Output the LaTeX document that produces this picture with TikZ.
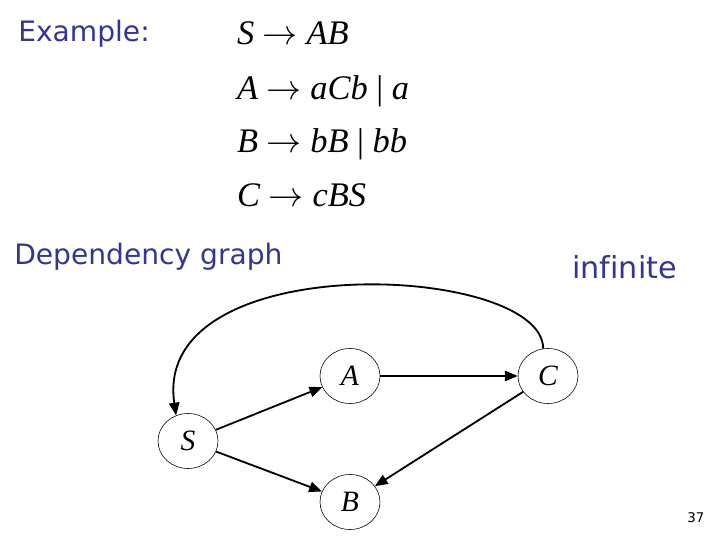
\documentclass[tikz,border=0pt]{standalone}
\usepackage{fontspec}
\setmainfont{Liberation Serif}
\newfontfamily\slidefont[Ligatures=NoCommon]{DejaVu Sans}
\usepackage{xcolor}
\usepackage{tikz}
\usetikzlibrary{arrows.meta,shapes.geometric}
\definecolor{slide}{HTML}{333399}
\definecolor{ink}{HTML}{000000}
\tikzset{
  vtx/.style={ellipse,draw=ink,line width=0.4pt,minimum width=1.5cm,minimum height=1.375cm,inner sep=0pt,font=\fontsize{21}{24}\selectfont\itshape},
  arrow/.style={-{Triangle[length=3.2mm,width=2.6mm]},line width=1.3pt,color=ink},
  heading/.style={font=\slidefont\fontsize{20}{24}\selectfont,text=slide,anchor=base west,inner sep=0pt},
  prod/.style={font=\fontsize{24.5}{28}\selectfont,anchor=base west,inner sep=0pt},
  pageno/.style={font=\slidefont\fontsize{9.5}{12}\selectfont,anchor=base west,inner sep=0pt},
}

\begin{document}
\begin{tikzpicture}
    \useasboundingbox (0,0) rectangle (18,13.5);
    % texts
    \node[heading] (ex) at (0.45,12.45) {Example:};
    \node[prod] (p1) at (5.92,12.375) {\textit{S} $\rightarrow$ \textit{AB}};
    \node[prod] (p2) at (5.92,11.0) {\textit{A} $\rightarrow$ \textit{aCb} | \textit{a}};
    \node[prod] (p3) at (5.92,9.675) {\textit{B} $\rightarrow$ \textit{bB} | \textit{bb}};
    \node[prod] (p4) at (5.92,8.325) {\textit{C} $\rightarrow$ \textit{cBS}};
    \node[heading] (dep) at (0.35,6.875) {Dependency graph};
    \node[heading,font=\slidefont\fontsize{21.5}{24}\selectfont] (inf) at (14.3,6.525) {infinite};
    \node[pageno] (pg) at (17.18,0.45) {37};
    % graph
    \node[vtx] (S) at (4.70,2.475) {S};
    \node[vtx] (A) at (8.75,4.10) {A};
    \node[vtx] (B) at (8.75,0.95) {B};
    \node[vtx] (C) at (13.70,4.10) {C};
    \draw[arrow] (S) -- (A);
    \draw[arrow] (S) -- (B);
    \draw[arrow] (A) -- (C);
    \draw[arrow] (C) -- (B);
    \draw[arrow] (C.100) .. controls +(0,2.125) and +(-0.625,4.25) .. (S.115);
\end{tikzpicture}
\end{document}
